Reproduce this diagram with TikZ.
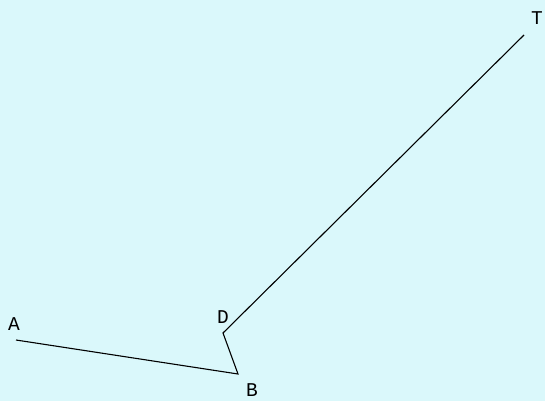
\documentclass[tikz,border=0pt]{standalone}
\usepackage{fontspec}
\setmonofont{Liberation Mono}
\definecolor{bgcyan}{RGB}{218,248,251}
\tikzset{lbl/.style={inner sep=0pt, font=\ttfamily\fontsize{15}{17}\selectfont, scale=1.3}, seg/.style={draw=black, line width=1.1pt}}
\begin{document}
\begin{tikzpicture}[x=1pt,y=-1pt]
\fill[bgcyan] (0,0) rectangle (545,401);
\useasboundingbox (0,0) rectangle (545,401);
\coordinate (A) at (16,340);
\coordinate (B) at (238,374);
\coordinate (D) at (223,333);
\coordinate (T) at (524,35);
\node[lbl] (la) at (14,324) {A};
\node[lbl] (ld) at (223,317) {D};
\node[lbl] (lb) at (252,390) {B};
\node[lbl] (lt) at (537,18) {T};
\draw[seg] (A) -- (B) -- (D) -- (T);
\end{tikzpicture}
\end{document}
